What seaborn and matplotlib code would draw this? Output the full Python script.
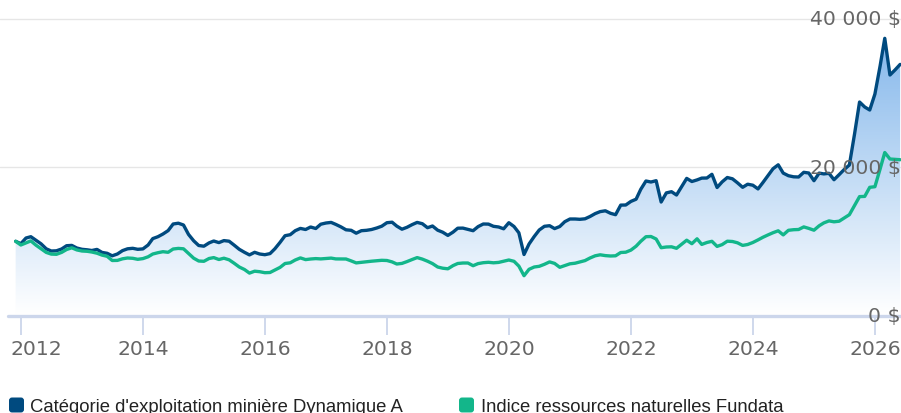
import numpy as np
import pandas as pd
import matplotlib
matplotlib.use("Agg")
import matplotlib.pyplot as plt
import matplotlib.dates as mdates
import matplotlib.transforms as mtransforms
from matplotlib.patches import Polygon, FancyBboxPatch
from matplotlib.colors import LinearSegmentedColormap
import seaborn as sns

# growth of 10 000 $, month-end values
first_month = "2011-11-30"
dynamique = [
    10010, 9686, 10455, 10630, 10144, 9672, 8998, 8701, 8728, 8971,
    9416, 9457, 9106, 8930, 8863, 8769, 8917, 8512, 8391, 8054,
    8296, 8755, 8998, 9065, 8930, 8984, 9510, 10374, 10630, 10994,
    11453, 12343, 12451, 12208, 10940, 10077, 9443, 9349, 9794, 10050,
    9834, 10104, 10023, 9497, 8930, 8526, 8175, 8526, 8296, 8202,
    8350, 8998, 9861, 10765, 10900, 11440, 11750, 11601, 11939, 11736,
    12316, 12478, 12559, 12289, 11952, 11561, 11493, 11102, 11440, 11493,
    11601, 11804, 12047, 12519, 12586, 12060, 11642, 11898, 12262, 12559,
    12384, 11844, 12074, 11507, 11237, 10805, 11251, 11777, 11790, 11615,
    11440, 11993, 12343, 12330, 12033, 11939, 11696, 12519, 12006, 11156,
    8229, 9645, 10657, 11534, 12033, 12114, 11723, 12006, 12654, 13018,
    13018, 12977, 13045, 13355, 13746, 14016, 14124, 13787, 13598, 14893,
    14906, 15392, 15689, 17024, 18144, 18009, 18185, 15311, 16539, 16701,
    16256, 17402, 18495, 18077, 18292, 18535, 18549, 19048, 17267, 18023,
    18616, 18441, 17901, 17294, 17712, 17577, 17078, 17928, 18873, 19803,
    20329, 19210, 18859, 18711, 18684, 19318, 19223, 18185, 19210, 19102,
    19183, 18319, 19007, 19695, 20302, 24484, 28801, 28127, 27722, 29880,
    33658, 37394, 32443, 33118, 33874,
]
fundata = [
    10010, 9510, 9794, 10064, 9483, 9011, 8512, 8283, 8256, 8512,
    8903, 9133, 8849, 8701, 8661, 8566, 8404, 8148, 7986, 7420,
    7433, 7649, 7757, 7716, 7581, 7676, 7919, 8296, 8472, 8607,
    8526, 8971, 9052, 8998, 8377, 7730, 7352, 7312, 7689, 7811,
    7554, 7730, 7514, 7055, 6543, 6205, 5720, 5976, 5909, 5774,
    5801, 6138, 6489, 7015, 7109, 7487, 7770, 7541, 7622, 7676,
    7635, 7689, 7743, 7635, 7622, 7622, 7366, 7096, 7177, 7258,
    7325, 7393, 7446, 7420, 7231, 6947, 7028, 7271, 7554, 7811,
    7608, 7325, 7001, 6543, 6381, 6300, 6732, 7015, 7082, 7082,
    6718, 7001, 7123, 7177, 7109, 7163, 7325, 7487, 7312, 6664,
    5369, 6232, 6543, 6637, 6907, 7231, 7028, 6502, 6732, 6974,
    7055, 7217, 7406, 7757, 8054, 8188, 8081, 8027, 8054, 8499,
    8539, 8822, 9349, 10010, 10630, 10657, 10320, 9146, 9241, 9268,
    9065, 9618, 10158, 9686, 10347, 9591, 9848, 10010, 9322, 9564,
    10023, 9983, 9807, 9457, 9578, 9848, 10198, 10549, 10873, 11170,
    11426, 10873, 11493, 11574, 11601, 11952, 11750, 11507, 12101, 12492,
    12762, 12640, 12721, 13153, 13598, 14839, 16040, 16067, 17294, 17375,
    19763, 21989, 21112, 21058, 21017,
]
series_names = ["Catégorie d'exploitation minière Dynamique A",
                "Indice ressources naturelles Fundata"]
year_ticks = [2012, 2014, 2016, 2018, 2020, 2022, 2024, 2026]
y_ticks = [0, 20000, 40000]

BLUE = "#004a7f"
GREEN = "#13b68a"
AXIS = "#ccd6eb"

dates = pd.date_range(first_month, periods=len(dynamique), freq="ME")
df = pd.DataFrame({"date": dates, "dyn": dynamique, "idx": fundata})

sns.set_theme(style="white")
plt.rcParams["font.family"] = ["DejaVu Sans"]

W, H = 901, 414
fig = plt.figure(figsize=(W / 100, H / 100), dpi=100)
bottom_px = 316.5
ax = fig.add_axes([0, 1 - bottom_px / H, 1, bottom_px / H])

# x scale: 61 px per year, Jan 2012 at px 21
t2012 = mdates.date2num(pd.Timestamp("2012-01-01"))
px_day = 61 / 365.25
xlo, xhi = t2012 - 21 / px_day, t2012 + 880 / px_day
ytop = 40000 * bottom_px / 296.5

# gradient fill under the fund line
cmap = LinearSegmentedColormap.from_list("fill", ["#ffffff", "#7db3ea"])
grad = np.linspace(1, 0, 256).reshape(-1, 1)
im = ax.imshow(grad, extent=[xlo, xhi, 0, 40000], aspect="auto", cmap=cmap,
               origin="upper", zorder=1)
xnum = mdates.date2num(dates)
verts = [(xnum[0], 0)] + list(zip(xnum, dynamique)) + [(xnum[-1], 0)]
poly = Polygon(verts, closed=True, transform=ax.transData, fc="none", ec="none")
ax.add_patch(poly)
im.set_clip_path(poly)

for v in y_ticks[1:]:
    ax.axhline(v, color="#e6e6e6", lw=1, zorder=0.5)

sns.lineplot(data=df, x="date", y="dyn", color=BLUE, linewidth=2.4, ax=ax, zorder=3)
sns.lineplot(data=df, x="date", y="idx", color=GREEN, linewidth=2.4, ax=ax, zorder=4)

ax.set_xlim(xlo, xhi)
ax.set_ylim(0, ytop)
for s in ax.spines.values():
    s.set_visible(False)
ax.axhline(0, xmin=8 / W, xmax=1, color=AXIS, lw=2.4, zorder=5, clip_on=False)

ax.set_xticks([pd.Timestamp(f"{y}-01-01") for y in year_ticks])
ax.set_xticklabels([str(y) for y in year_ticks])
ax.tick_params(axis="x", bottom=True, direction="out", length=14, width=1.3,
               color=AXIS, pad=3, labelsize=14.7, labelcolor="#666666")
# first label is pushed right so it stays inside the picture
first = ax.get_xticklabels()[0]
first.set_horizontalalignment("left")
first.set_transform(first.get_transform() + mtransforms.Affine2D().translate(-11, 0))
ax.set_yticks([])
ax.set_xlabel("")
ax.set_ylabel("")

trans = mtransforms.blended_transform_factory(ax.transAxes, ax.transData)
for v in y_ticks:
    label = f"{v:,} $".replace(",", " ")
    ax.text(1.0, v, label, transform=trans, ha="right", va="center",
            fontsize=14.7, color="#666666", zorder=6, clip_on=False)

# legend
px = mtransforms.IdentityTransform()
for (x0, tx), name, col in zip([(9, 30), (459, 481)], series_names, [BLUE, GREEN]):
    fig.add_artist(FancyBboxPatch((x0, 0.5), 15, 15, boxstyle="round,pad=0,rounding_size=3",
                                  transform=px, fc=col, ec="none"))
    fig.text(tx / W, 1.5 / H, name, ha="left", va="baseline", fontsize=13.3,
             color="#222222", family=["Liberation Sans", "DejaVu Sans"])

fig.savefig("out.png", dpi=100)
